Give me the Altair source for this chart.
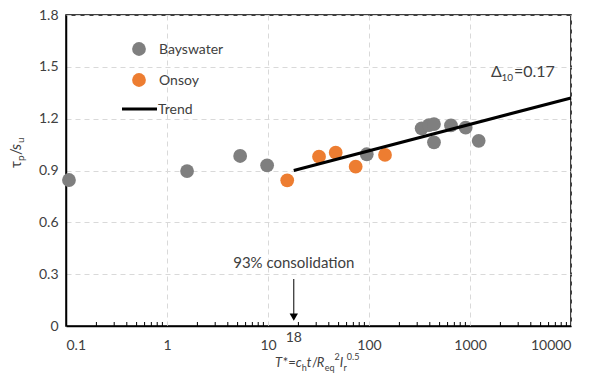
import altair as alt
import pandas as pd

# ---------------- data ----------------
bays_x = [0.107, 1.58, 5.3, 9.8, 95, 332, 392, 440, 440, 648, 906, 1219]
bays_y = [0.845, 0.897, 0.984, 0.93, 0.994, 1.144, 1.163, 1.169, 1.063, 1.161, 1.148, 1.072]
onsoy_x = [15.5, 32, 46.8, 73.8, 144]
onsoy_y = [0.843, 0.98, 1.003, 0.922, 0.99]
trend_x = [18, 10000]
trend_y = [0.90, 1.32]
x_ticks = [0.1, 1, 10, 100, 1000, 10000]
y_ticks = [0, 0.3, 0.6, 0.9, 1.2, 1.5, 1.8]
minor_ticks = [k * 10.0 ** d for d in range(-1, 4) for k in range(2, 10)]
consol_x = [18]

W, H = 505, 311
FONT = "Lato"
TC = "#404040"
GRAY = "#7f7f7f"
ORANGE = "#ed7d31"

xs = alt.Scale(type="log", domain=[0.1, 10000])
ys = alt.Scale(domain=[0, 1.8])

pts = pd.DataFrame({
    "x": bays_x + onsoy_x,
    "y": bays_y + onsoy_y,
    "s": ["Bayswater"] * len(bays_x) + ["Onsoy"] * len(onsoy_x),
})

points = alt.Chart(pts).mark_circle(size=190, opacity=1).encode(
    x=alt.X("x:Q", scale=xs, axis=alt.Axis(
        values=x_ticks, format="~g", grid=True, gridDash=[5, 4], gridColor="#d9d9d9",
        domainColor="black", domainWidth=1.5, ticks=False, labelPadding=12,
        labelFontSize=14, labelColor=TC, labelFont=FONT, title=None)),
    y=alt.Y("y:Q", scale=ys, axis=alt.Axis(
        values=y_ticks, format="~g", grid=True, gridDash=[5, 4], gridColor="#d9d9d9",
        domainColor="black", domainWidth=1.5, ticks=False, labelPadding=8,
        labelFontSize=14, labelColor=TC, labelFont=FONT, title=None)),
    color=alt.Color("s:N", scale=alt.Scale(domain=["Bayswater", "Onsoy"], range=[GRAY, ORANGE]), legend=None),
)

trend = alt.Chart(pd.DataFrame({"x": trend_x, "y": trend_y})).mark_line(color="black", strokeWidth=3).encode(
    x=alt.X("x:Q", scale=xs), y=alt.Y("y:Q", scale=ys))

minor = alt.Chart(pd.DataFrame({"x": minor_ticks})).mark_rule(color="black", strokeWidth=1).encode(
    x=alt.X("x:Q", scale=xs), y=alt.value(H), y2=alt.value(H - 4))

cdf = pd.DataFrame({"x": consol_x, "y1": [0.272], "y2": [0.06], "yh": [0.052], "yt": [0.366]})
arrow = alt.Chart(cdf).mark_rule(color="black", strokeWidth=1).encode(
    x=alt.X("x:Q", scale=xs), y=alt.Y("y1:Q", scale=ys), y2="y2:Q")
head = alt.Chart(cdf).mark_point(shape="triangle-down", filled=True, color="black", size=70, opacity=1).encode(
    x=alt.X("x:Q", scale=xs), y=alt.Y("yh:Q", scale=ys))
ctext = alt.Chart(cdf).mark_text(font=FONT, fontSize=15, color=TC, align="center", baseline="middle").encode(
    x=alt.X("x:Q", scale=xs), y=alt.Y("yt:Q", scale=ys), text=alt.value("93% consolidation"))
lab18 = alt.Chart(cdf).mark_text(font=FONT, fontSize=14, color=TC, align="center", baseline="middle").encode(
    x=alt.X("x:Q", scale=xs), y=alt.value(H + 12), text=alt.value("18"))

dummy = pd.DataFrame({"d": [0]})


def txt(s, px, py, fs=14, italic=False, angle=0, align="left"):
    return alt.Chart(dummy).mark_text(
        font=FONT, fontSize=fs, color=TC, align=align, baseline="alphabetic",
        fontStyle="italic" if italic else "normal", angle=angle,
    ).encode(x=alt.value(px), y=alt.value(py), text=alt.value(s))


# legend
leg = [
    alt.Chart(dummy).mark_circle(size=190, color=GRAY, opacity=1).encode(x=alt.value(73), y=alt.value(34)),
    alt.Chart(dummy).mark_circle(size=190, color=ORANGE, opacity=1).encode(x=alt.value(73), y=alt.value(65)),
    alt.Chart(dummy).mark_rule(color="black", strokeWidth=3).encode(x=alt.value(56), x2=alt.value(91), y=alt.value(94)),
    txt("Bayswater", 93, 39, 14),
    txt("Onsoy", 93, 70, 14),
    txt("Trend", 92, 99, 14),
]

# delta label
delta = [
    txt("Δ", 425, 62, 16),
    txt("10", 435.5, 66, 10),
    txt("=0.17", 448, 62, 16),
]

# x title pieces
x0 = 209
xb, xsb, xsp = 352, 356, 345
xt = [
    txt("T", x0 + 0, xb, 13, True),
    txt("*=", x0 + 7.8, xb, 13),
    txt("c", x0 + 20.8, xb, 13, True),
    txt("h", x0 + 26.8, xsb, 9),
    txt("t", x0 + 31.8, xb, 13, True),
    txt("/", x0 + 37, xb, 13),
    txt("R", x0 + 41.8, xb, 13, True),
    txt("eq", x0 + 49.8, xsb, 9),
    txt("2", x0 + 59.6, xsp, 9),
    txt("I", x0 + 64.8, xb, 13, True),
    txt("r", x0 + 68.5, xsb, 9),
    txt("0.5", x0 + 71.8, xsp, 9),
]

# y title pieces (rotated)
yb, ysb = -45, -42
yt = [
    txt("τ", yb, 153, 15, False, 270),
    txt("p", ysb, 146, 10, False, 270),
    txt("/", yb, 140, 15, False, 270),
    txt("s", yb, 135, 15, True, 270),
    txt("u", ysb, 128, 10, False, 270),
]

chart = alt.layer(
    points, trend, minor, arrow, head, ctext, lab18, *leg, *delta, *xt, *yt
).properties(
    width=W, height=H,
    autosize=alt.AutoSizeParams(type="none"),
    padding={"left": 58, "top": 7, "right": 14, "bottom": 49},
).configure_view(stroke="black", strokeWidth=1.5)

chart.save("out.html", embed_options={"renderer": "svg", "actions": False})
